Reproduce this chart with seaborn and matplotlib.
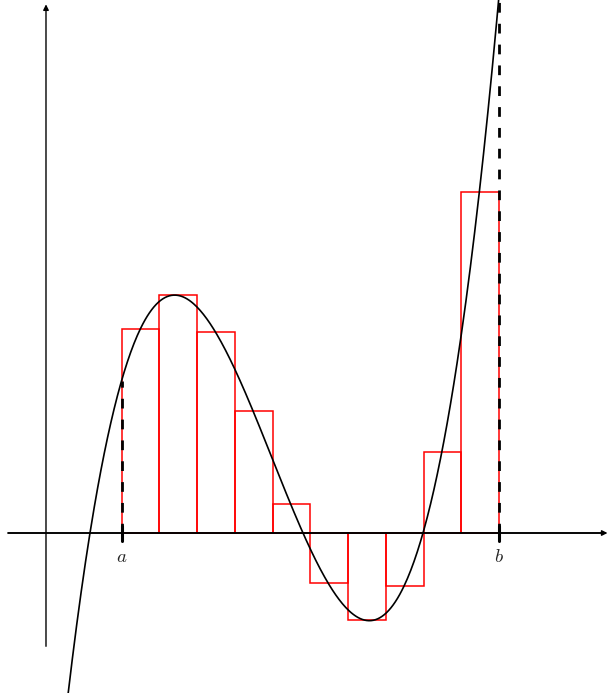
"""Riemann sum sketch: cubic curve with red rectangles between a and b"""
import numpy as np
import pandas as pd
import matplotlib
matplotlib.use("Agg")
from matplotlib import pyplot as plt
import seaborn as sns

# interval [a, b] split in 10 steps of width 1
a = 2
b = 12
bar_left = [2, 3, 4, 5, 6, 7, 8, 9, 10, 11]
bar_height = [5.39, 6.30, 5.33, 3.24, 0.76, -1.33, -2.30, -1.40, 2.14, 9.04]

# cubic: roots and scale
roots = [1.165, 6.806, 9.984]
scale = 0.1257
curve_x = np.linspace(0.55, 12.2, 400)


def f(x):
    """the cubic drawn in black"""
    return scale * (x - roots[0]) * (x - roots[1]) * (x - roots[2])


sns.set_style("white")
plt.rcParams["mathtext.fontset"] = "cm"

fig = plt.figure(figsize=(6.09, 6.93), dpi=100)
ax = fig.add_axes([0, 0, 1, 1])

bars = pd.DataFrame({"mid": [x + 0.5 for x in bar_left], "height": bar_height})
sns.barplot(data=bars, x="mid", y="height", native_scale=True, width=1,
            fill=False, color="red", linewidth=1.1, errorbar=None, ax=ax)
for p in ax.patches:
    p.set_edgecolor("red")
    p.set_facecolor("none")

# dashed verticals at a and b up to the curve
ax.plot([a, a], [0, f(a)], color="black", lw=2, ls=(0, (3.5, 4)), zorder=4)
ax.plot([b, b], [0, f(b)], color="black", lw=2, ls=(0, (3.5, 4)), zorder=4)
# small thick ticks
ax.plot([a, a], [-0.2, 0.18], color="black", lw=2.2, zorder=5)
ax.plot([b, b], [-0.2, 0.18], color="black", lw=2.2, zorder=5)

sns.lineplot(x=curve_x, y=f(curve_x), color="black", lw=1.2, ax=ax, zorder=6)

# axes with arrows
ax.plot([-1.0, 14.7], [0, 0], color="black", lw=1.2, zorder=5)
ax.annotate("", xy=(14.87, 0), xytext=(-1.0, 0),
            arrowprops=dict(arrowstyle="-|>", color="black", lw=1.0,
                            mutation_scale=8, shrinkA=0, shrinkB=0), zorder=5)
ax.annotate("", xy=(0, 14.0), xytext=(0, -3.0),
            arrowprops=dict(arrowstyle="-|>", color="black", lw=1.0,
                            mutation_scale=8, shrinkA=0, shrinkB=0), zorder=5)

ax.text(a, -0.62, r"$a$", fontsize=13.5, ha="center", va="center")
ax.text(b, -0.62, r"$b$", fontsize=13.5, ha="center", va="center")

ax.set_xlim(-1.218, 14.91)
ax.set_ylim(-4.237, 14.115)
ax.set_xlabel("")
ax.set_ylabel("")
ax.axis("off")

fig.savefig("out.png", dpi=100)
